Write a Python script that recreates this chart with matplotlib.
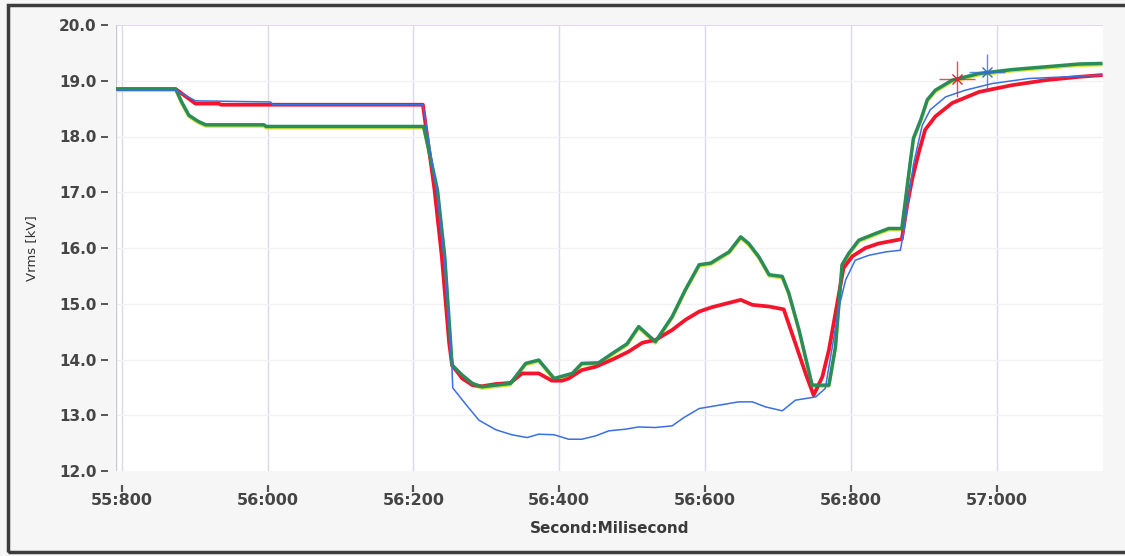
import matplotlib.pyplot as plt
from matplotlib.ticker import FuncFormatter
from matplotlib.patches import Rectangle
import matplotlib.transforms as mtransforms

# time in milliseconds (second*1000 + ms), voltage in kV
t_green = [55789, 55874, 55882, 55892, 55905, 55915, 55995, 55998, 56214, 56233,
           56243, 56251, 56253, 56267, 56281, 56294, 56313, 56333, 56354, 56372,
           56393, 56404, 56418, 56431, 56454, 56473, 56493, 56509, 56532, 56555,
           56573, 56592, 56608, 56619, 56633, 56649, 56660, 56674, 56688, 56706,
           56715, 56729, 56747, 56770, 56779, 56788, 56797, 56811, 56834, 56852,
           56870, 56875, 56882, 56886, 56896, 56905, 56916, 56939, 56976, 57021,
           57067, 57113, 57143]
v_green = [18.85, 18.85, 18.62, 18.38, 18.27, 18.21, 18.21, 18.18, 18.18, 17.04,
           15.84, 14.30, 13.90, 13.72, 13.57, 13.51, 13.54, 13.57, 13.93, 13.99,
           13.66, 13.70, 13.75, 13.93, 13.94, 14.11, 14.28, 14.59, 14.32, 14.77,
           15.25, 15.70, 15.73, 15.82, 15.93, 16.20, 16.08, 15.84, 15.52, 15.49,
           15.19, 14.53, 13.54, 13.54, 14.23, 15.70, 15.90, 16.14, 16.26, 16.35,
           16.35, 16.86, 17.58, 17.97, 18.30, 18.66, 18.83, 19.01, 19.13, 19.20,
           19.25, 19.30, 19.31]

t_red = [55789, 55874, 55901, 55933, 55936, 56213, 56229, 56239, 56249, 56253,
         56267, 56281, 56294, 56313, 56333, 56349, 56372, 56390, 56404, 56413,
         56431, 56450, 56473, 56495, 56514, 56532, 56555, 56573, 56592, 56610,
         56628, 56649, 56665, 56688, 56708, 56724, 56738, 56749, 56761, 56770,
         56779, 56790, 56802, 56820, 56838, 56870, 56877, 56884, 56893, 56902,
         56916, 56939, 56976, 57021, 57067, 57113, 57143]
v_red = [18.85, 18.85, 18.59, 18.59, 18.57, 18.57, 17.04, 15.84, 14.30, 13.90,
         13.66, 13.54, 13.52, 13.56, 13.58, 13.75, 13.75, 13.62, 13.62, 13.66,
         13.81, 13.87, 14.00, 14.14, 14.30, 14.35, 14.53, 14.71, 14.86, 14.94,
         15.00, 15.07, 14.98, 14.95, 14.90, 14.29, 13.75, 13.36, 13.69, 14.17,
         14.83, 15.64, 15.85, 16.00, 16.08, 16.16, 16.74, 17.22, 17.70, 18.12,
         18.36, 18.60, 18.80, 18.92, 19.01, 19.07, 19.10]

t_blue = [55789, 55874, 55901, 56004, 56007, 56213, 56232, 56242, 56251, 56253,
          56254, 56271, 56290, 56313, 56335, 56356, 56372, 56393, 56413, 56431,
          56450, 56468, 56491, 56509, 56532, 56555, 56570, 56592, 56619, 56646,
          56665, 56683, 56706, 56724, 56752, 56765, 56784, 56793, 56806, 56825,
          56848, 56868, 56873, 56886, 56898, 56909, 56930, 56957, 56994, 57044,
          57143]
v_blue = [18.83, 18.83, 18.64, 18.62, 18.57, 18.57, 17.04, 15.84, 14.30, 13.81,
          13.49, 13.21, 12.91, 12.74, 12.65, 12.60, 12.66, 12.65, 12.57, 12.57,
          12.63, 12.72, 12.75, 12.79, 12.78, 12.81, 12.95, 13.12, 13.18, 13.24,
          13.24, 13.15, 13.08, 13.27, 13.33, 13.48, 14.95, 15.43, 15.78, 15.87,
          15.93, 15.96, 16.32, 17.50, 18.20, 18.48, 18.71, 18.83, 18.95, 19.04,
          19.10]

cursor_t = [56946, 56987]
cursor_v = [19.04, 19.16]
cursor_colors = ['#e0203a', '#2f6fd0']

x_ticks = [55800, 56000, 56200, 56400, 56600, 56800, 57000]
y_ticks = [12.0, 13.0, 14.0, 15.0, 16.0, 17.0, 18.0, 19.0, 20.0]

fig = plt.figure(figsize=(11.25, 5.56), dpi=100, facecolor='#f6f6f6')
ax = fig.add_axes([116 / 1125, 1 - 471 / 556, (1103 - 116) / 1125, (471 - 25) / 556])
ax.set_facecolor('white')

# scanned panel frame
fig.patches.append(Rectangle((8 / 1125, 4 / 556), 1.2, 1 - 9 / 556, transform=fig.transFigure,
                             fill=False, edgecolor='#3c3c3c', linewidth=2.5, zorder=0))

# grid
for xt in x_ticks:
    ax.axvline(xt, color='#d9d9ec', linewidth=1.0, zorder=0)
for yt in y_ticks[1:-1]:
    ax.axhline(yt, color='#f1f1f6', linewidth=1.0, zorder=0)
ax.axhline(20.0, color='#e2d2ea', linewidth=1.3, zorder=0)

# yellow phase hidden under green, shown as a thin edge below it
yellow_off = mtransforms.offset_copy(ax.transData, fig=fig, x=0, y=-1.5, units='dots')
ax.plot(t_green, v_green, color='#d7e63a', linewidth=2.2, transform=yellow_off, zorder=2)
ax.plot(t_red, v_red, color='#f5142c', linewidth=2.7, zorder=3)
ax.plot(t_green, v_green, color='#2a8c58', linewidth=2.5, zorder=4)
ax.plot(t_blue, v_blue, color='#3a6fe2', linewidth=1.1, zorder=5)

for ct, cv, cc in zip(cursor_t, cursor_v, cursor_colors):
    ax.plot(ct, cv, marker='+', markersize=26, markeredgewidth=1.0, color=cc, alpha=0.8, zorder=6)
    ax.plot(ct, cv, marker='x', markersize=7, markeredgewidth=1.0, color=cc, zorder=6)

ax.set_xlim(55792, 57146)
ax.set_ylim(12.0, 20.0)
ax.set_xticks(x_ticks)
ax.set_yticks(y_ticks)
ax.xaxis.set_major_formatter(FuncFormatter(lambda x, p: f"{int(x // 1000)}:{int(round(x % 1000)):03d}"))
ax.yaxis.set_major_formatter(FuncFormatter(lambda y, p: f"{y:.1f}"))

for s in ['top', 'right']:
    ax.spines[s].set_visible(False)
ax.spines['bottom'].set_position(('outward', 10))
ax.spines['bottom'].set_visible(False)
ax.spines['left'].set_position(('outward', 6))
ax.spines['left'].set_visible(False)
ax.axvline(55792, color='#c8c8d8', linewidth=1.0, zorder=1)

ax.tick_params(axis='x', direction='out', length=5, width=1.6, color='#555555',
               labelsize=11.5, labelcolor='#454545', pad=1)
ax.tick_params(axis='y', direction='out', length=5, width=1.4, color='#555555',
               labelsize=11, labelcolor='#454545', pad=3)
for lab in ax.get_xticklabels() + ax.get_yticklabels():
    lab.set_fontweight('bold')

ax.set_xlabel('Second:Milisecond', fontsize=11, fontweight='bold', color='#3a3a3a', labelpad=9)
ax.set_ylabel('Vrms [kV]', fontsize=9.5, color='#333333', labelpad=15)

fig.savefig('out.png', dpi=100, facecolor=fig.get_facecolor())
